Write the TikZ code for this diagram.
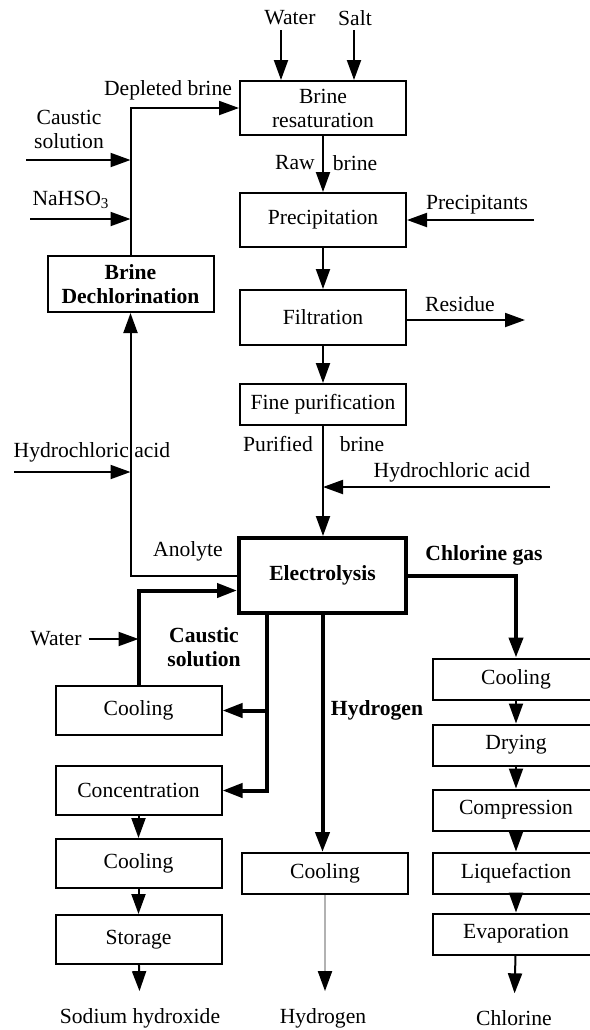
\documentclass[tikz,border=0pt]{standalone}
\usepackage{fontspec}
\setmainfont{Liberation Serif}
\usepackage{tikz}
\usetikzlibrary{arrows.meta}

\begin{document}
\begin{tikzpicture}[x=0.5pt, y=-0.5pt, font=\fontsize{10.8}{12}\selectfont,
    box/.style={draw, line width=1pt, minimum width=83pt, minimum height=20.5pt,
                align=center, inner sep=1pt},
    flow/.style={-{Triangle[length=10pt,width=7pt]}, line width=1pt},
    heavyflow/.style={flow, line width=2pt},
    outflow/.style={flow, shorten >=5pt}]
  \useasboundingbox (0,0) rectangle (590,1030);
  \clip (0,0) rectangle (590,1030);

  % Brine line
  \node[box, minimum height=27pt] (resat) at (323,108) {Brine\\resaturation};
  \node[box, minimum height=27pt] (precip) at (323,220) {Precipitation};
  \node[box, minimum height=27.5pt] (filt) at (323,317.5) {Filtration};
  \node[box] (finepur) at (323,404.5) {Fine purification};
  \node[box, minimum width=83.5pt, minimum height=37.5pt, line width=2pt,
        font=\fontsize{10.8}{12}\selectfont\bfseries] (elec) at (322.5,575.5) {Electrolysis};
  \node[box, minimum height=28pt, font=\fontsize{10.8}{12}\selectfont\bfseries]
        (dechlor) at (130.5,284) {Brine\\Dechlorination};

  % Caustic line
  \node[box, minimum height=24.5pt] (ccool) at (138.5,710.5) {Cooling};
  \node[box, minimum height=24.5pt] (conc) at (138.5,790.5) {Concentration};
  \node[box, minimum height=24.5pt] (ncool) at (138.5,863.5) {Cooling};
  \node[box, minimum height=24.5pt] (store) at (138.5,939.5) {Storage};

  % Hydrogen and chlorine lines
  \node[box] (hcool) at (325,873.5) {Cooling};
  \node[box] (kcool) at (516,679) {Cooling};
  \node[box] (dry) at (516,745) {Drying};
  \node[box] (comp) at (516,810) {Compression};
  \node[box] (liq) at (516,873) {Liquefaction};
  \node[box] (evap) at (516,934) {Evaporation};

  % Labels
  \node (lWater) at (290,18) {Water};
  \node (lSalt) at (355,18) {Salt};
  \node (lDepl) at (168,90) {Depleted brine};
  \node[align=center] (lCaus) at (69,129) {Caustic\\solution};
  \node (lNa) at (71,200) {NaHSO\textsubscript{3}};
  \node (lRaw) at (295,163) {Raw};
  \node (lRawB) at (355,163) {brine};
  \node (lPrec) at (477,205) {Precipitants};
  \node (lRes) at (460,304) {Residue};
  \node (lPur) at (278,444) {Purified};
  \node (lPurB) at (362,444) {brine};
  \node (lHClR) at (452,472) {Hydrochloric acid};
  \node (lHClL) at (92,452) {Hydrochloric acid};
  \node (lAno) at (188,551) {Anolyte};
  \node[font=\fontsize{10.8}{12}\selectfont\bfseries] (lCl) at (484,555) {Chlorine gas};
  \node (lWater2) at (56,639) {Water};
  \node[align=center, font=\fontsize{10.8}{12}\selectfont\bfseries] (lCaus2) at (204,647) {Caustic\\solution};
  \node[font=\fontsize{10.8}{12}\selectfont\bfseries] (lH) at (377,710) {Hydrogen};
  \node (naoh) at (140,1018) {Sodium hydroxide};
  \node (hydro) at (323,1018) {Hydrogen};
  \node (chlor) at (514,1018) {Chlorine};

  % Free ends
  \coordinate (inWater) at (281,30);
  \coordinate (inSalt) at (354,30);
  \coordinate (inCaus) at (26,160);
  \coordinate (inNa) at (30,219);
  \coordinate (inPrec) at (534,220);
  \coordinate (outRes) at (525,320);
  \coordinate (inHClR) at (550,487);
  \coordinate (inHClL) at (14,472);
  \coordinate (cdown) at ([xshift=15pt]elec.south west);

  % Feeds
  \draw[flow] (inWater) -- (inWater |- resat.north);
  \draw[flow] (inSalt) -- (inSalt |- resat.north);
  \draw[flow] (dechlor.north) |- (resat.west);
  \draw[flow] (inCaus) -- (inCaus -| dechlor.north);
  \draw[flow] (inNa) -- (inNa -| dechlor.north);
  \draw[flow] (inPrec) -- (precip.east);
  \draw[flow] (outRes -| filt.east) -- (outRes);
  \foreach \a/\b in {resat/precip, precip/filt, filt/finepur}
    \draw[flow] (\a) -- (\b);
  \draw[flow] (finepur.south) -- (finepur.south |- elec.north);
  \draw[flow] (inHClR) -- (inHClR -| finepur.south);
  \draw[flow] (inHClL) -- (inHClL -| dechlor.south);
  \draw[flow] (elec.west) -| (dechlor.south);

  % Caustic
  \draw[heavyflow] (ccool.north) |- ([yshift=-7.5pt]elec.west);
  \draw[flow] (lWater2.east) -- (lWater2.east -| ccool.north);
  \draw[heavyflow] (cdown) |- (conc.east);
  \draw[heavyflow] (ccool.east -| cdown) -- (ccool.east);
  \foreach \a/\b in {conc/ncool, ncool/store}
    \draw[flow] (\a) -- (\b);
  \draw[outflow] (store) -- (naoh);

  % Hydrogen
  \draw[heavyflow] (elec.south) -- (elec.south |- hcool.north);
  \draw[outflow, draw=gray!60, -{Triangle[length=10pt,width=7pt,black]}]
    (hcool.south) -- (hcool.south |- hydro.north);

  % Chlorine
  \draw[heavyflow] (elec.east) -| (kcool.north);
  \foreach \a/\b in {kcool/dry, dry/comp, comp/liq, liq/evap}
    \draw[flow] (\a) -- (\b);
  \draw[outflow] (evap) -- (chlor);
\end{tikzpicture}
\end{document}
